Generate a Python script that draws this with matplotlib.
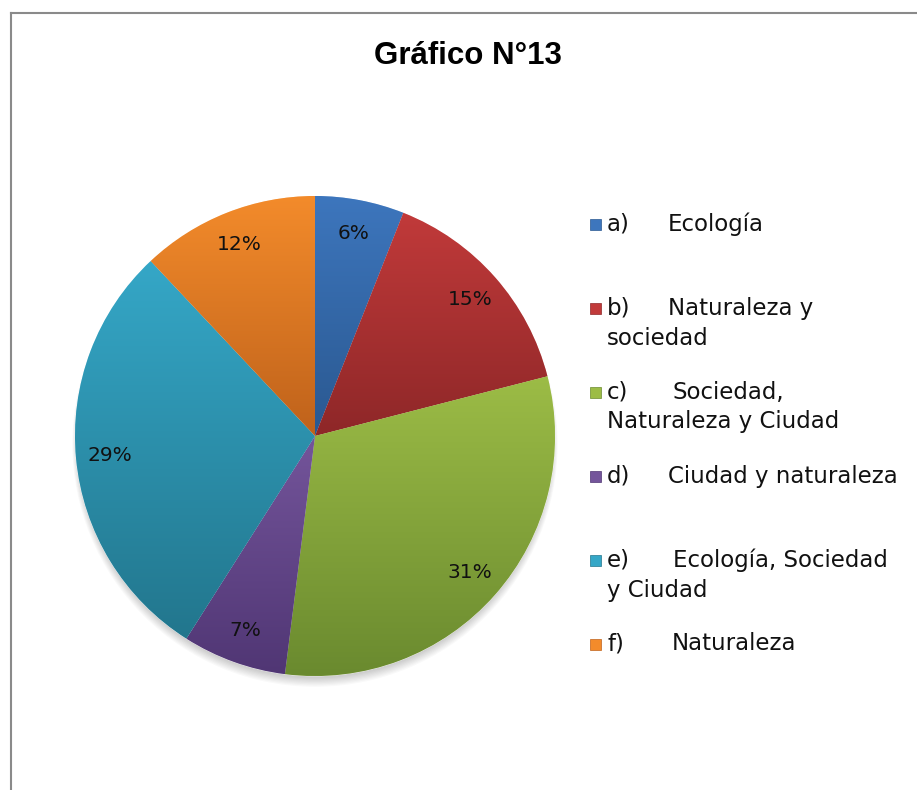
import matplotlib
matplotlib.use("Agg")
import matplotlib.pyplot as plt
import numpy as np
from matplotlib.colors import to_rgb
from matplotlib.patches import Rectangle, Circle
from matplotlib.lines import Line2D

letters = ['a)', 'b)', 'c)', 'd)', 'e)', 'f)']
names = ['Ecología', 'Naturaleza y\nsociedad', 'Sociedad,\nNaturaleza y Ciudad',
         'Ciudad y naturaleza', 'Ecología, Sociedad\ny Ciudad', 'Naturaleza']
values = [6, 15, 31, 7, 29, 12]
top_colors = ['#3d76bd', '#c13a3a', '#9cbc46', '#74559b', '#35a7c7', '#f38b2b']
bot_colors = ['#2a5890', '#8e2728', '#6a8a2f', '#503674', '#22768d', '#bf621b']
title = 'Gráfico N°13'

W, H = 917, 790
fig = plt.figure(figsize=(W / 100, H / 100), dpi=100)
fig.patch.set_facecolor('white')

# frame (left and top edges visible)
fig.add_artist(Line2D([10.5 / W, 10.5 / W], [0, 1 - 13 / H], transform=fig.transFigure,
                      color='#8a8a8a', lw=1.5))
fig.add_artist(Line2D([10.5 / W, 1], [1 - 13 / H, 1 - 13 / H], transform=fig.transFigure,
                      color='#8a8a8a', lw=1.5))

fig.text(468 / W, 1 - 56 / H, title, ha='center', va='center', fontsize=22.5,
         fontweight='bold', family='Liberation Sans')

cx, cy, r = 315, 436, 240
ax = fig.add_axes([(cx - r) / W, 1 - (cy + r) / H, 2 * r / W, 2 * r / H])
ax.set_xlim(-1, 1)
ax.set_ylim(-1, 1)
ax.axis('off')

# soft shadow, mostly under the pie
for k in range(8):
    ax.add_patch(Circle((0.0, -0.02 - 0.002 * k), 0.99 + 0.003 * k, color='black',
                        alpha=0.022, zorder=0, clip_on=False, lw=0))

wedges, texts, autotexts = ax.pie(values, colors=top_colors, startangle=90, counterclock=False,
                                  autopct='%1.0f%%', pctdistance=0.86, radius=1.0,
                                  wedgeprops=dict(edgecolor='white', linewidth=0.4),
                                  textprops=dict(fontsize=14.5, color='#111111'))

for w, c1, c2 in zip(wedges, top_colors, bot_colors):
    t = np.radians(np.linspace(w.theta1, w.theta2, 200))
    ys = np.concatenate([[0], np.sin(t)])
    y0, y1 = ys.min(), ys.max()
    a = np.array(to_rgb(c1))
    b = np.array(to_rgb(c2))
    f = np.linspace(0, 1, 256)[:, None]
    grad = (a * (1 - f) + b * f)[:, None, :]
    im = ax.imshow(grad, extent=[-1, 1, y0, y1], origin='upper', aspect='auto',
                   interpolation='bilinear', zorder=2)
    im.set_clip_path(w)
for at in autotexts:
    at.set_zorder(5)
ax.set_xlim(-1, 1)
ax.set_ylim(-1, 1)

# legend
fs = 16.5
name_x = [668, 668, 672, 668, 673, 672]
for i, (lt, nm) in enumerate(zip(letters, names)):
    ypx = 224 + 84 * i
    fig.add_artist(Rectangle((590 / W, 1 - (ypx + 6) / H), 11 / W, 11 / H,
                             transform=fig.transFigure, facecolor=top_colors[i],
                             edgecolor=bot_colors[i], lw=0.5))
    lines = nm.split('\n')
    fig.text(607 / W, 1 - ypx / H, lt, ha='left', va='center', fontsize=fs, color='#111111')
    fig.text(name_x[i] / W, 1 - ypx / H, lines[0], ha='left', va='center', fontsize=fs,
             color='#111111')
    for j, ln in enumerate(lines[1:], start=1):
        fig.text(607 / W, 1 - (ypx + 30 * j) / H, ln, ha='left', va='center', fontsize=fs,
                 color='#111111')

fig.savefig('out.png', dpi=100)
